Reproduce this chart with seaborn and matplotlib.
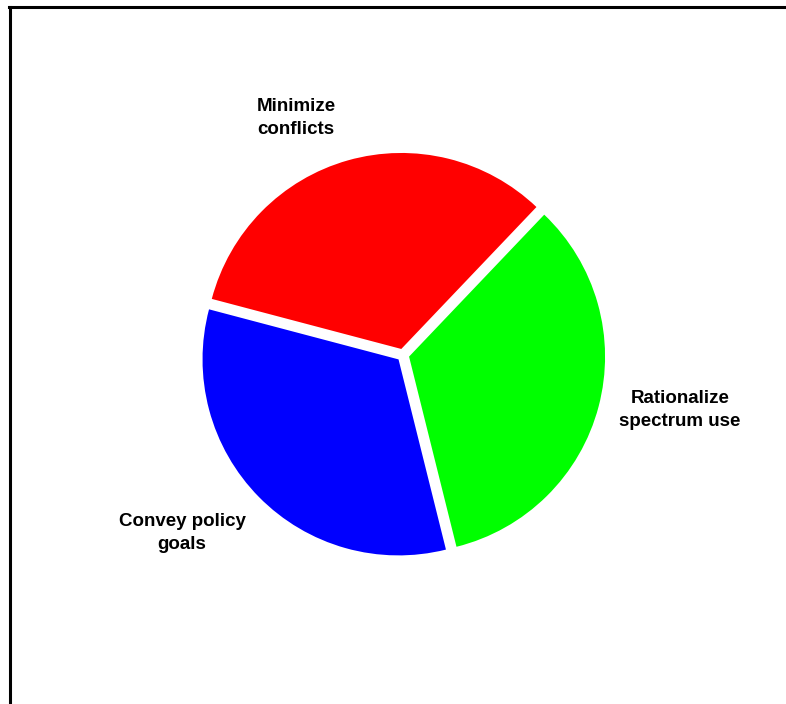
import matplotlib
matplotlib.use("Agg")
import matplotlib.pyplot as plt
from matplotlib.lines import Line2D
import seaborn as sns

categories = ["Rationalize\nspectrum use", "Minimize\nconflicts", "Convey policy\ngoals"]
shares = [34, 33, 33]
colors = ["#00ff00", "#ff0000", "#0000ff"]

sns.set_theme(style="white")
plt.rcParams['font.family'] = ['Liberation Sans', 'DejaVu Sans']

W, H = 786, 704
fig = plt.figure(figsize=(W / 100, H / 100), dpi=100)
ax = fig.add_axes([0, 0, 1, 1])
ax.set_axis_off()

palette = sns.color_palette(colors)
wedges, texts = ax.pie(shares, labels=categories, colors=palette, startangle=-76,
                       counterclock=True, explode=[0.032] * 3, radius=1.0,
                       labeldistance=1.4,
                       wedgeprops=dict(linewidth=0),
                       textprops=dict(fontsize=13.5, fontweight='bold', color='black'))

# place labels like the reference
r = 196.0
cx, cy = 403.0, 355.0
label_px = [(680, 410), (296, 118), (182, 533)]
for t, (px, py) in zip(texts, label_px):
    t.set_position(((px - cx) / r, (cy - py) / r))
    t.set_ha('center')
    t.set_va('center')
    t.set_multialignment('center')
    t.set_linespacing(1.5)

ax.set_aspect('equal')
ax.set_xlim(-cx / r, (W - cx) / r)
ax.set_ylim(-(H - cy) / r, cy / r)

# frame: top and left lines
fig.add_artist(Line2D([9 / W, 1], [1 - 7 / H, 1 - 7 / H], transform=fig.transFigure,
                      color='black', linewidth=2.2, solid_capstyle='projecting'))
fig.add_artist(Line2D([10 / W, 10 / W], [0, 1 - 7 / H], transform=fig.transFigure,
                      color='black', linewidth=2.2, solid_capstyle='projecting'))

fig.savefig("out.png", dpi=100, facecolor='white')
